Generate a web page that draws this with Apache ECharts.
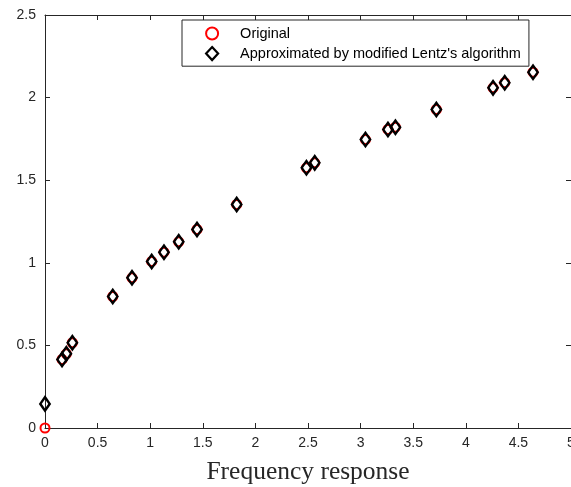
<!DOCTYPE html>
<html>
<head>
<meta charset="utf-8">
<script src="https://cdn.jsdelivr.net/npm/echarts@6/dist/echarts.min.js"></script>
<style>html,body{margin:0;padding:0;background:#fff}#c{width:571px;height:487px}</style>
</head>
<body>
<div id="c"></div>
<script>
// Data
var originalX = [0, 0.162, 0.203, 0.26, 0.644, 0.827, 1.014, 1.131, 1.271, 1.445, 1.822, 2.485, 2.564, 3.046, 3.26, 3.331, 3.72, 4.259, 4.37, 4.639];
var originalY = [0, 0.415, 0.449, 0.516, 0.796, 0.909, 1.008, 1.064, 1.127, 1.202, 1.353, 1.575, 1.605, 1.746, 1.807, 1.821, 1.928, 2.059, 2.09, 2.154];
var approxX = [0, 0.162, 0.203, 0.26, 0.644, 0.827, 1.014, 1.131, 1.271, 1.445, 1.822, 2.485, 2.564, 3.046, 3.26, 3.331, 3.72, 4.259, 4.37, 4.639];
var approxY = [0.146, 0.415, 0.449, 0.516, 0.796, 0.909, 1.008, 1.064, 1.127, 1.202, 1.353, 1.575, 1.605, 1.746, 1.807, 1.821, 1.928, 2.059, 2.09, 2.154];
var xTicks = [0, 0.5, 1, 1.5, 2, 2.5, 3, 3.5, 4, 4.5, 5];
var yTicks = [0, 0.5, 1, 1.5, 2, 2.5];
var seriesNames = ['Original', "Approximated by modified Lentz's algorithm"];
var xTitle = 'Frequency response';

function pairs(xs, ys) { return xs.map(function (x, i) { return [x, ys[i]]; }); }

var axisColor = '#262626';
var font = 'Liberation Sans, Arial, Helvetica, sans-serif';

function axisCommon(showLabels) {
  return {
    axisLine: { show: true, onZero: false, lineStyle: { color: axisColor, width: 1 } },
    axisTick: { show: true, inside: true, length: 5, lineStyle: { color: axisColor, width: 1 } },
    axisLabel: { show: showLabels, color: axisColor, fontFamily: font, fontSize: 14 },
    splitLine: { show: false }
  };
}

var chart = echarts.init(document.getElementById('c'), null, { renderer: 'canvas' });
var xMain = Object.assign({ type: 'value', position: 'bottom', min: xTicks[0], max: xTicks[xTicks.length - 1], interval: 0.5,
  name: xTitle, nameLocation: 'middle', nameGap: 31,
  nameTextStyle: { fontFamily: 'Liberation Serif, Times New Roman, serif', fontSize: 25.5, color: axisColor } }, axisCommon(true));
xMain.axisLabel.margin = 8;
xMain.axisLabel.hideOverlap = false;
xMain.axisLabel.showMaxLabel = true;
xMain.axisLabel.formatter = function (v) { return String(v); };
var xTop = Object.assign({ type: 'value', position: 'top', min: xTicks[0], max: xTicks[xTicks.length - 1], interval: 0.5 }, axisCommon(false));
var yMain = Object.assign({ type: 'value', position: 'left', min: yTicks[0], max: yTicks[yTicks.length - 1], interval: 0.5 }, axisCommon(true));
yMain.axisLabel.margin = 9;
yMain.axisLabel.formatter = function (v) { return String(v); };
var yRight = Object.assign({ type: 'value', position: 'right', min: yTicks[0], max: yTicks[yTicks.length - 1], interval: 0.5 }, axisCommon(false));

chart.setOption({
  animation: false,
  backgroundColor: '#ffffff',
  grid: { left: 45, right: 0, top: 15, bottom: 59, containLabel: false, outerBoundsMode: 'none' },
  xAxis: [xMain, xTop],
  yAxis: [yMain, yRight],
  legend: {
    orient: 'vertical',
    left: 182, top: 20,
    padding: [6, 8, 5, 23],
    itemWidth: 12, itemHeight: 13, itemGap: 5,
    borderColor: '#262626', borderWidth: 1,
    backgroundColor: '#ffffff',
    textStyle: { fontFamily: font, fontSize: 14.5, color: '#000000', padding: [0, 0, 0, 17] },
    data: [
      { name: seriesNames[0], icon: 'circle', itemStyle: { color: 'transparent', borderColor: '#ff0000', borderWidth: 2 } },
      { name: seriesNames[1], icon: 'diamond', itemStyle: { color: 'transparent', borderColor: '#000000', borderWidth: 2.2 } }
    ]
  },
  series: [
    {
      name: seriesNames[0], type: 'scatter', xAxisIndex: 0, yAxisIndex: 0,
      symbol: 'circle', symbolSize: 9, clip: false,
      itemStyle: { color: 'transparent', borderColor: '#ff0000', borderWidth: 2, opacity: 1 },
      emphasis: { disabled: true },
      data: pairs(originalX, originalY)
    },
    {
      name: seriesNames[1], type: 'scatter', xAxisIndex: 0, yAxisIndex: 0,
      symbol: 'diamond', symbolSize: [9.5, 13.5], clip: false,
      itemStyle: { color: 'transparent', borderColor: '#000000', borderWidth: 2.4, opacity: 1 },
      emphasis: { disabled: true },
      data: pairs(approxX, approxY)
    }
  ]
});
</script>
</body>
</html>
